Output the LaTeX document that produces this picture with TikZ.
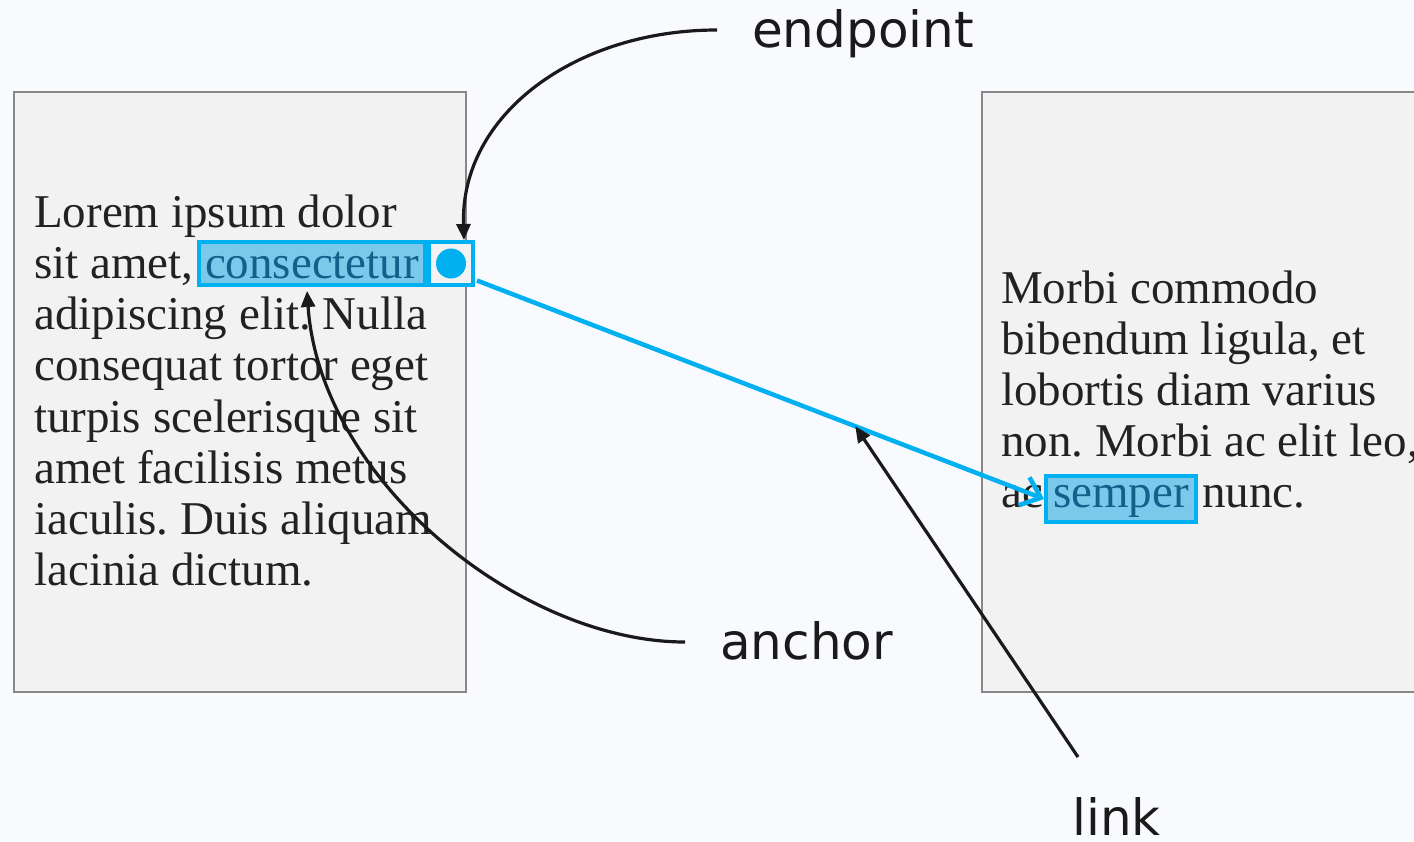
\documentclass[tikz,border=0pt]{standalone}
\usepackage{fontspec}
\setmainfont{Liberation Serif}
\newfontfamily\labelfont{DejaVu Sans}
\usetikzlibrary{arrows.meta,calc}
\frenchspacing
\definecolor{bg}{HTML}{F8FAFE}
\definecolor{panelfill}{HTML}{F2F2F2}
\definecolor{panelline}{HTML}{888888}
\definecolor{bodytext}{HTML}{222222}
\definecolor{lbltext}{HTML}{1A1A1A}
\definecolor{linkblue}{HTML}{00B0F0}
\definecolor{hlfill}{HTML}{7AC8EA}
\definecolor{hltext}{HTML}{14608A}
\begin{document}
\begin{tikzpicture}[x=1pt,y=-1pt,
  body/.style={anchor=base west, inner sep=0pt, font=\frenchspacing\fontsize{47}{56}\selectfont, text=bodytext},
  lbl/.style={anchor=base west, inner sep=0pt, font=\labelfont\fontsize{50}{60}\selectfont, text=lbltext},
  panel/.style={draw=panelline, line width=2pt, fill=panelfill, anchor=north west, inner sep=0pt},
  hlbox/.style={draw=linkblue, line width=4pt, fill=hlfill, text=hltext, inner ysep=0pt, anchor=base, font=\fontsize{47}{56}\selectfont},
  epbox/.style={draw=linkblue, line width=4pt, fill=panelfill, minimum width=44pt, minimum height=43pt, inner sep=0pt, anchor=west},
  dotmark/.style={circle, fill=linkblue, minimum size=30pt, inner sep=0pt},
  callout/.style={draw=lbltext, line width=3.2pt, arrows={-Triangle[length=16pt,width=14pt]}},
  linkline/.style={draw=linkblue, line width=4.5pt, arrows={-Straight Barb[length=18pt,width=30pt]}}
]
\fill[bg] (0,0) rectangle (1414,841);
\useasboundingbox (0,0) rectangle (1414,841);

% panels
\node[panel, minimum width=452pt, minimum height=600pt] (lp) at (13,91) {};
\node[panel, minimum width=470pt, minimum height=600pt] (rp) at (981,91) {};

% left text
\node[body] (l1) at (34,227) {Lorem ipsum dolor};
\node[body] (l2) at (34,278) {sit amet,};
\node[hlbox, text height=36pt, text depth=7pt, inner xsep=6pt] (hl) at (312,278) {consectetur};
\node[epbox] (ep) at (hl.east) {};
\node[dotmark] (dot) at (ep.center) {};
\node[body] (l3) at (34,329) {adipiscing elit. Nulla};
\node[body] (l4) at (34,380) {consequat tortor eget};
\node[body] (l5) at (34,432) {turpis scelerisque sit};
\node[body] (l6) at (34,483) {amet facilisis metus};
\node[body] (l7) at (34,534) {iaculis. Duis aliquam};
\node[body] (l8) at (34,585) {lacinia dictum.};

% right text
\node[body] (r1) at (1001,303) {Morbi commodo};
\node[body] (r2) at (1001,354) {bibendum ligula, et};
\node[body] (r3) at (1001,405) {lobortis diam varius};
\node[body] (r4) at (1001,456) {non. Morbi ac elit leo,};
\node[body] (r5) at (1001,507) {ac};
\node[hlbox, text height=31pt, text depth=15pt, inner xsep=7pt] (sem) at (1121,507) {semper};
\node[body] (r6) at (1202,507) {nunc.};

% link
\draw[linkline] ($(ep.east)+(2,17)$) -- coordinate[pos=0.667] (lk) (sem.west);

% labels
\node[lbl] (eL) at (752,47) {endpoint};
\node[lbl] (aL) at (720,659) {anchor};
\node[lbl] (kL) at (1072,835) {link};
\coordinate (eS) at (717,30);
\coordinate (aS) at (685,642);
\coordinate (kS) at (1078,757);

% callouts
\draw[callout] (eS) .. controls (575,30) and (460,115) .. ($(ep.north)+(13,0)$);
\draw[callout] (aS) .. controls (520,642) and (320,480) .. ($(hl.south)+(-5,4)$);
\draw[callout] (kS) -- (lk);
\end{tikzpicture}
\end{document}
